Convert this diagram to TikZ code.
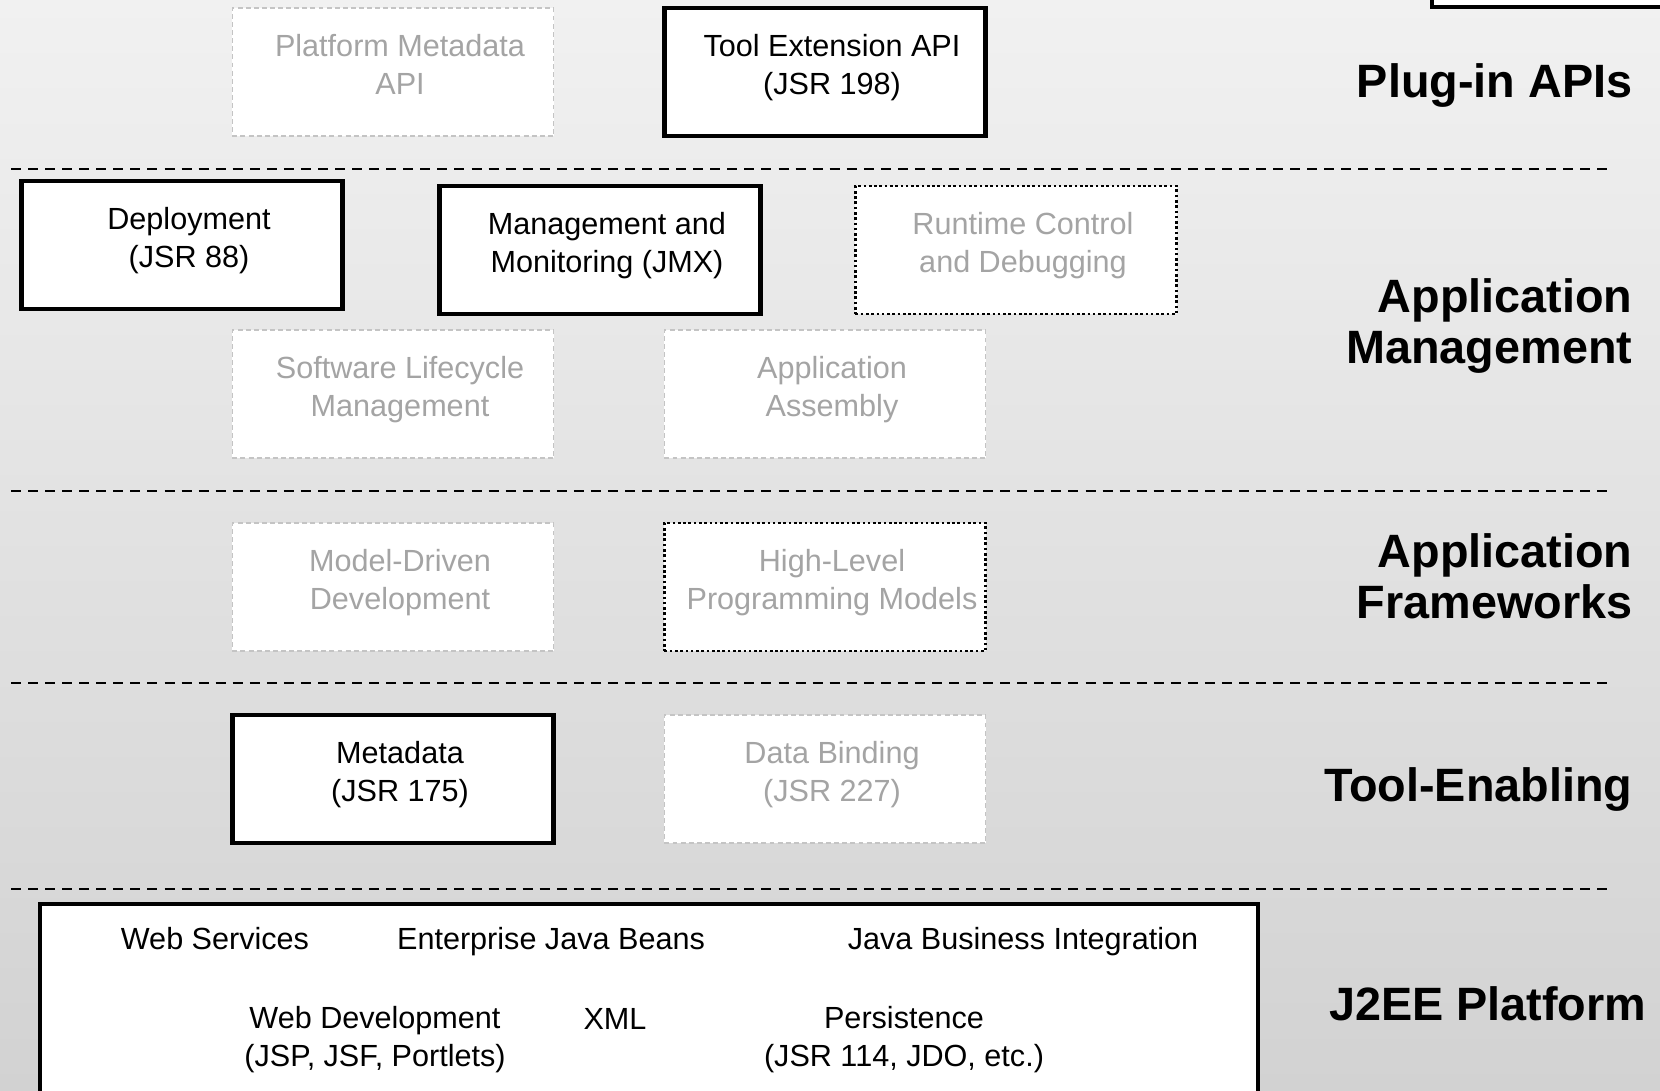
\documentclass[tikz,border=0pt]{standalone}
\usepackage{fontspec}
\setmainfont{Liberation Sans}
\definecolor{fadeline}{HTML}{C4C4C4}
\definecolor{fadetext}{HTML}{A4A4A4}
\definecolor{bgtop}{HTML}{F1F1F1}
\definecolor{bgbottom}{HTML}{D2D2D2}
\begin{document}
\begin{tikzpicture}[x=0.01cm,y=-0.01cm,
    box/.style={draw,fill=white,minimum width=3.21cm,minimum height=1.28cm,
      inner sep=0pt},
    solidbox/.style={box,line width=1.28pt},
    ghostbox/.style={box,draw=fadeline,line width=0.45pt,
      dash pattern=on 1.4pt off 0.9pt},
    dotbox/.style={box,line width=0.75pt,dash pattern=on 0.75pt off 0.75pt},
    inbox/.style={align=center,font=\fontsize{8.7}{10.8}\selectfont,
      xshift=0.07cm,yshift=0.045cm},
    layer/.style={anchor=east,align=right,inner sep=0pt,
      font=\fontsize{13.3}{14.4}\selectfont\bfseries},
    sep/.style={line width=0.57pt,dash pattern=on 2.85pt off 2pt},
    item/.style={align=center,font=\fontsize{8.7}{10.8}\selectfont}]
  \useasboundingbox (0,0) rectangle (1660,1091);
  \shade[top color=bgtop,bottom color=bgbottom] (0,0) rectangle (1660,1091);
  % box cut by the top right corner
  \draw[line width=1.28pt,fill=white] (1432,-20) rectangle (1690,7);
  % plug-in APIs
  \node[ghostbox,label={[inbox,fadetext,yshift=0.03cm]center:Platform Metadata\\API}] (platmeta) at (393,72) {};
  \node[solidbox,label={[inbox]center:Tool Extension API\\(JSR 198)}] (toolext) at (825,72) {};
  \node[layer] (plugin) at (1633,86) {Plug-in APIs};
  \coordinate (s1a) at (11,169);
  \coordinate (s1b) at (1609,169);
  \draw[sep] (s1a) -- (s1b);
  % application management
  \node[solidbox,label={[inbox]center:Deployment\\(JSR 88)}] (deploy) at (182,245) {};
  \node[solidbox,label={[inbox]center:Management and\\Monitoring (JMX)}] (jmx) at (600,250) {};
  \node[dotbox,label={[inbox,fadetext]center:Runtime Control\\and Debugging}] (runtime) at (1016,250) {};
  \node[ghostbox,label={[inbox,fadetext]center:Software Lifecycle\\Management}] (lifecycle) at (393,394) {};
  \node[ghostbox,label={[inbox,fadetext]center:Application\\Assembly}] (assembly) at (825,394) {};
  \node[layer] (appmgmt) at (1633,326) {Application\\Management};
  \coordinate (s2a) at (11,491);
  \coordinate (s2b) at (1609,491);
  \draw[sep] (s2a) -- (s2b);
  % application frameworks
  \node[ghostbox,label={[inbox,fadetext]center:Model-Driven\\Development}] (mdd) at (393,587) {};
  \node[dotbox,label={[inbox,fadetext]center:High-Level\\Programming Models}] (highlevel) at (825,587) {};
  \node[layer] (appfw) at (1633,576) {Application\\Frameworks};
  \coordinate (s3a) at (11,683);
  \coordinate (s3b) at (1609,683);
  \draw[sep] (s3a) -- (s3b);
  % tool-enabling
  \node[solidbox,label={[inbox]center:Metadata\\(JSR 175)}] (metadata) at (393,779) {};
  \node[ghostbox,label={[inbox,fadetext]center:Data Binding\\(JSR 227)}] (binding) at (825,779) {};
  \node[layer] (toolen) at (1633,790) {Tool-Enabling};
  \coordinate (s4a) at (11,889);
  \coordinate (s4b) at (1609,889);
  \draw[sep] (s4a) -- (s4b);
  % J2EE platform
  \draw[line width=1.28pt,fill=white] (40,904) rectangle (1258,1120);
  \node[item] (websvc) at (215,939) {Web Services};
  \node[item] (ejb) at (551,942) {Enterprise Java Beans};
  \node[item] (jbi) at (1023,942) {Java Business Integration};
  \node[item] (webdev) at (375,1040) {Web Development\\(JSP, JSF, Portlets)};
  \node[item] (xml) at (615,1019) {XML};
  \node[item] (persist) at (904,1040) {Persistence\\(JSR 114, JDO, etc.)};
  \node[layer] (j2ee) at (1647,1004) {J2EE Platform};
\end{tikzpicture}
\end{document}
